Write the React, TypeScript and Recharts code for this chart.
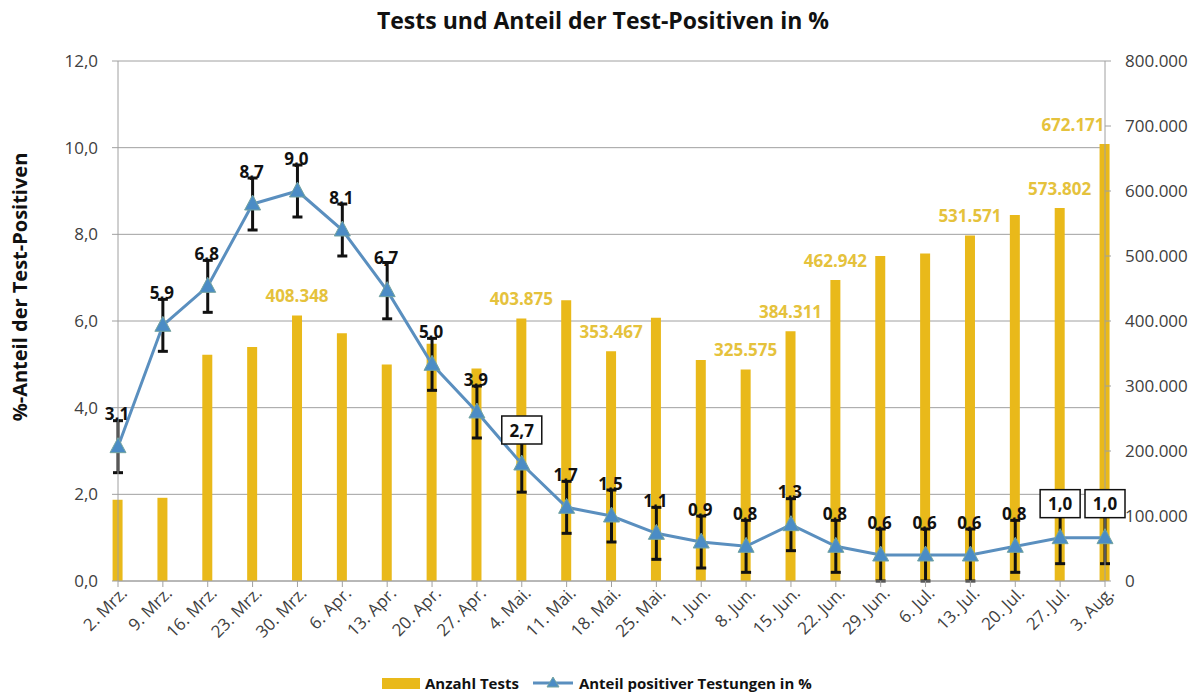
import { ComposedChart, Bar, Line, XAxis, YAxis, CartesianGrid, ErrorBar, LabelList } from "recharts"

const weeks = [
  "2. Mrz.", "9. Mrz.", "16. Mrz.", "23. Mrz.", "30. Mrz.", "6. Apr.", "13. Apr.", "20. Apr.",
  "27. Apr.", "4. Mai.", "11. Mai.", "18. Mai.", "25. Mai.", "1. Jun.", "8. Jun.", "15. Jun.",
  "22. Jun.", "29. Jun.", "6. Jul.", "13. Jul.", "20. Jul.", "27. Jul.", "3. Aug.",
]

const tests = [
  125000, 128000, 348000, 360000, 408348, 381000, 333000, 365000,
  327000, 403875, 432000, 353467, 405000, 340000, 325575, 384311,
  462942, 500000, 504000, 531571, 563000, 573802, 672171,
]

const positiveShare = [
  3.1, 5.9, 6.8, 8.7, 9.0, 8.1, 6.7, 5.0,
  3.9, 2.7, 1.7, 1.5, 1.1, 0.9, 0.8, 1.3,
  0.8, 0.6, 0.6, 0.6, 0.8, 1.0, 1.0,
]

const shareError = [
  0.6, 0.6, 0.6, 0.6, 0.6, 0.6, 0.65, 0.6,
  0.6, 0.65, 0.6, 0.6, 0.6, 0.6, 0.6, 0.6,
  0.6, 0.6, 0.6, 0.6, 0.6, 0.6, 0.6,
]

const labeledTests = ["30. Mrz.", "4. Mai.", "18. Mai.", "8. Jun.", "15. Jun.", "22. Jun.", "13. Jul.", "27. Jul.", "3. Aug."]
const boxedShares = ["4. Mai.", "27. Jul.", "3. Aug."]

const leftTicks = [0, 2, 4, 6, 8, 10, 12]
const rightTicks = [0, 100000, 200000, 300000, 400000, 500000, 600000, 700000, 800000]

const data = weeks.map((week, i) => ({
  idx: i,
  week,
  tests: tests[i],
  share: positiveShare[i],
  err: shareError[i],
}))

const FONT = "'Open Sans', 'Noto Sans', sans-serif"
const BAR = "#e9b91a"
const BAR_TEXT = "#e5c23c"
const LINE = "#5a8fbf"
const GRID = "#a0a0a0"
const TICK = "#404040"

const thousands = (v: number) => String(Math.round(v)).replace(/\B(?=(\d{3})+(?!\d))/g, ".")
const decimal = (v: number) => v.toFixed(1).replace(".", ",")

function WeekTick({ x, y, payload }: any) {
  const tx = x + 7
  const ty = y + 2
  return (
    <text
      x={tx}
      y={ty}
      transform={`rotate(-45 ${tx} ${ty})`}
      textAnchor="end"
      dominantBaseline="middle"
      fontSize={17}
      fill={TICK}
      fontFamily={FONT}
    >
      {weeks[payload.value]}
    </text>
  )
}

function Triangle({ cx, cy }: any) {
  if (cx == null || cy == null) return null
  return (
    <polygon
      points={`${cx},${cy - 9} ${cx - 8},${cy + 6} ${cx + 8},${cy + 6}`}
      fill="#4b8cc5"
      stroke="#74a4a0"
      strokeWidth={1}
    />
  )
}

function ShareLabel({ x, y, value, index }: any) {
  if (x == null || y == null) return null
  const text = decimal(value)
  if (boxedShares.includes(weeks[index])) {
    const by = y - 34
    return (
      <g>
        <rect x={x - 20} y={by - 14} width={40} height={28} fill="#fff" stroke="#111" strokeWidth={1.5} />
        <text x={x} y={by} textAnchor="middle" dominantBaseline="central" fontSize={17} fontWeight={700} fill="#111" fontFamily={FONT}>
          {text}
        </text>
      </g>
    )
  }
  return (
    <text x={x - 1} y={y - 33} textAnchor="middle" dominantBaseline="central" fontSize={17} fontWeight={700} fill="#111" fontFamily={FONT}>
      {text}
    </text>
  )
}

function TestsLabel({ x, y, width, value, index }: any) {
  if (!labeledTests.includes(weeks[index])) return null
  const cx = x + width / 2
  const last = index === weeks.length - 1
  return (
    <text
      x={cx}
      y={y - 20}
      textAnchor={last ? "end" : "middle"}
      dominantBaseline="central"
      fontSize={17}
      fontWeight={700}
      fill={BAR_TEXT}
      fontFamily={FONT}
    >
      {thousands(value)}
    </text>
  )
}

export default function App() {
  return (
    <div style={{ position: "absolute", left: 0, top: 0, width: 1201, height: 695, background: "#fff", fontFamily: FONT }}>
      <div
        style={{
          position: "absolute",
          left: 0,
          top: 4,
          width: 1206,
          textAlign: "center",
          fontSize: 23,
          fontWeight: 700,
          color: "#111",
        }}
      >
        Tests und Anteil der Test-Positiven in %
      </div>
      <ComposedChart width={1201} height={695} data={data} margin={{ top: 61, right: 0, bottom: 0, left: 0 }}>
        <CartesianGrid yAxisId="left" vertical={false} stroke={GRID} />
        <XAxis
          dataKey="idx"
          type="number"
          domain={[0, weeks.length - 1]}
          ticks={weeks.map((_, i) => i)}
          interval={0}
          height={114}
          tick={(props: any) => <WeekTick {...props} />}
          tickSize={6}
          stroke={GRID}
        />
        <YAxis
          yAxisId="left"
          domain={[0, 12]}
          ticks={leftTicks}
          tickFormatter={decimal}
          width={118}
          tickSize={6}
          tickMargin={14}
          stroke={GRID}
          tick={{ fill: TICK, fontSize: 17, fontFamily: FONT }}
          label={{
            content: () => (
              <text
                x={19}
                y={287}
                transform="rotate(-90 19 287)"
                textAnchor="middle"
                dominantBaseline="central"
                fontSize={20}
                fontWeight={700}
                fill="#111"
                fontFamily={FONT}
              >
                %-Anteil der Test-Positiven
              </text>
            ),
          }}
        />
        <YAxis
          yAxisId="right"
          orientation="right"
          domain={[0, 800000]}
          ticks={rightTicks}
          tickFormatter={thousands}
          width={96}
          tickSize={6}
          tickMargin={14}
          stroke={GRID}
          tick={{ fill: TICK, fontSize: 17, fontFamily: FONT, textAnchor: "start" }}
        />
        <Bar yAxisId="right" dataKey="tests" fill={BAR} barSize={10} isAnimationActive={false}>
          <LabelList dataKey="tests" content={(p: any) => <TestsLabel {...p} />} />
        </Bar>
        <Line
          yAxisId="left"
          dataKey="share"
          type="linear"
          stroke={LINE}
          strokeWidth={3}
          dot={(p: any) => <Triangle key={`t-${p.index}`} {...p} />}
          activeDot={false}
          isAnimationActive={false}
        >
          <ErrorBar dataKey="err" direction="y" width={5} strokeWidth={3} stroke="#111" />
          <LabelList dataKey="share" content={(p: any) => <ShareLabel {...p} />} />
        </Line>
      </ComposedChart>
      <div
        style={{
          position: "absolute",
          left: 382,
          top: 673,
          display: "flex",
          alignItems: "center",
          fontSize: 15,
          fontWeight: 700,
          color: "#111",
          whiteSpace: "nowrap",
        }}
      >
        <span style={{ display: "inline-block", width: 38, height: 11, background: BAR, marginRight: 5 }} />
        <span>Anzahl Tests</span>
        <svg width={40} height={16} style={{ marginLeft: 14, marginRight: 6 }}>
          <line x1={0} y1={8} x2={40} y2={8} stroke={LINE} strokeWidth={3} />
          <polygon points="20,2 14,12 26,12" fill="#4b8cc5" stroke="#74a4a0" strokeWidth={1} />
        </svg>
        <span>Anteil positiver Testungen in %</span>
      </div>
    </div>
  )
}
